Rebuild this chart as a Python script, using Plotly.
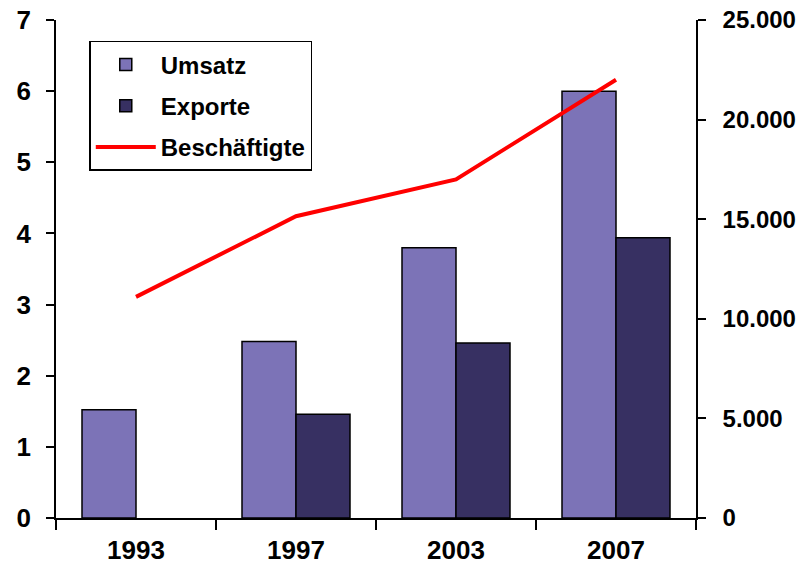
import plotly.graph_objects as go

years = ["1993", "1997", "2003", "2007"]
umsatz = [1.52, 2.48, 3.80, 6.00]
exporte = [None, 1.46, 2.46, 3.94]
beschaeftigte = [11100, 15150, 17000, 22000]

left_ticks = [0, 1, 2, 3, 4, 5, 6, 7]
right_ticks = [0, 5000, 10000, 15000, 20000, 25000]

FONT = "Liberation Sans, Arial, sans-serif"

fig = go.Figure()
fig.add_trace(go.Bar(x=years, y=umsatz, name="Umsatz", legendgroup="a",
                     marker=dict(color="#7C73B7", line=dict(color="black", width=1.5))))
fig.add_trace(go.Bar(x=years, y=exporte, name="Exporte", legendgroup="b",
                     marker=dict(color="#373062", line=dict(color="black", width=1.5))))
fig.add_trace(go.Scatter(x=years, y=beschaeftigte, name="Beschäftigte", legendgroup="c",
                         mode="lines", yaxis="y2",
                         line=dict(color="#FF0000", width=4)))

fig.update_layout(
    width=803, height=572,
    margin=dict(l=56, r=107, t=20, b=54),
    paper_bgcolor="white", plot_bgcolor="white",
    barmode="group", bargap=0.325, bargroupgap=0,
    separators=",.",
    font=dict(family=FONT, size=22, color="black", weight="bold"),
    xaxis=dict(type="category", tickson="boundaries", ticks="outside", ticklen=10,
               tickwidth=1.5, tickcolor="black", showline=True, linecolor="black",
               linewidth=1.5, showgrid=False, zeroline=False, automargin=False,
               ticklabelstandoff=8,
               tickfont=dict(size=26, family=FONT, weight="bold")),
    yaxis=dict(range=[0, 7], tickvals=left_ticks, ticks="outside", ticklen=8,
               tickwidth=1.5, tickcolor="black", showline=True, linecolor="black",
               linewidth=1.5, showgrid=False, zeroline=False, automargin=False,
               ticklabelstandoff=10,
               tickfont=dict(size=26, family=FONT, weight="bold")),
    yaxis2=dict(range=[0, 25000], tickvals=right_ticks, tickformat=",d",
                overlaying="y", side="right", ticks="outside", ticklen=8,
                tickwidth=1.5, tickcolor="black", showline=True, linecolor="black",
                linewidth=1.5, showgrid=False, zeroline=False, automargin=False,
                ticklabelstandoff=12,
                tickfont=dict(size=24, family=FONT, weight="bold")),
    legend=dict(x=0.052, y=0.958, xanchor="left", yanchor="top",
                bgcolor="white", bordercolor="black", borderwidth=1.5,
                traceorder="grouped", tracegroupgap=7, itemwidth=60,
                font=dict(size=24, family=FONT, weight="bold")),
)

fig.write_html("out.html", config={"displayModeBar": False},
               post_script="document.body.style.margin='0';document.body.style.padding='0';")
